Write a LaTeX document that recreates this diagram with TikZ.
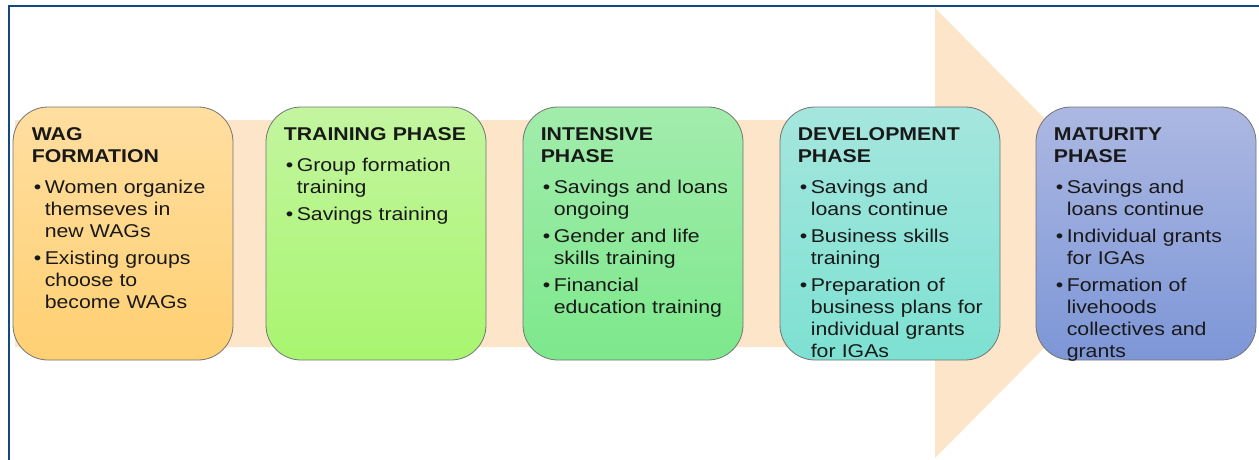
\documentclass[tikz,border=0pt]{standalone}
\usepackage{fontspec}
\setmainfont{Liberation Sans}[FakeStretch=1.15]
\usetikzlibrary{positioning}

\definecolor{framebl}{RGB}{20,72,130}
\definecolor{flowarrow}{RGB}{253,229,202}
\definecolor{wagtop}{RGB}{255,222,160}
\definecolor{wagbot}{RGB}{255,208,115}
\definecolor{traintop}{RGB}{195,245,160}
\definecolor{trainbot}{RGB}{168,245,110}
\definecolor{inttop}{RGB}{162,236,172}
\definecolor{intbot}{RGB}{125,232,140}
\definecolor{devtop}{RGB}{165,230,222}
\definecolor{devbot}{RGB}{125,225,210}
\definecolor{mattop}{RGB}{172,184,226}
\definecolor{matbot}{RGB}{125,150,215}

\newcommand{\phasehead}[1]{\textbf{#1}\par\vspace{9pt}}
\newcommand{\phaseitem}[1]{\hangindent=13pt\hangafter=1\makebox[13pt][l]{\hspace{2pt}\textbullet}#1\par\vspace{5pt}}

\begin{document}
\begin{tikzpicture}[x=1pt,y=1pt]
\tikzstyle{every node}+=[inner sep=0pt]
\tikzstyle{phasebox}=[draw=black!55, line width=0.8pt, rounded corners=35pt, minimum width=220pt, minimum height=253pt]
\tikzstyle{phasetext}=[text width=205pt, align=left, font=\fontsize{18.5}{22}\selectfont, text=black!90]
\useasboundingbox (0,0) rectangle (1259,-460);
\draw [framebl, line width=2pt] (1259,-6) -- (9,-6) -- (9,-460);
\fill [flowarrow] (15,-120) -- (935,-120) -- (935,-8) -- (1158,-233) -- (935,-458) -- (935,-347) -- (15,-347) -- cycle;
\node [phasebox, top color=wagtop, bottom color=wagbot] (wag) at (123,-233.5) {};
\node [phasebox, top color=traintop, bottom color=trainbot] (train) at (376,-233.5) {};
\node [phasebox, top color=inttop, bottom color=intbot] (intens) at (633,-233.5) {};
\node [phasebox, top color=devtop, bottom color=devbot] (devel) at (890,-233.5) {};
\node [phasebox, top color=mattop, bottom color=matbot] (matur) at (1146,-233.5) {};
\node [phasetext, below right=21pt and 19pt of wag.north west] (wagtext) {%
\phasehead{WAG\\FORMATION}
\phaseitem{Women organize\newline themseves in\newline new WAGs}
\phaseitem{Existing groups\newline choose to\newline become WAGs}};
\node [phasetext, below right=21pt and 18pt of train.north west] (traintext) {%
\phasehead{TRAINING PHASE}
\phaseitem{Group formation\newline training}
\phaseitem{Savings training}};
\node [phasetext, below right=21pt and 18pt of intens.north west] (intenstext) {%
\phasehead{INTENSIVE\\PHASE}
\phaseitem{Savings and loans\newline ongoing}
\phaseitem{Gender and life\newline skills training}
\phaseitem{Financial\newline education training}};
\node [phasetext, below right=21pt and 18pt of devel.north west] (develtext) {%
\phasehead{DEVELOPMENT\\PHASE}
\phaseitem{Savings and\newline loans continue}
\phaseitem{Business skills\newline training}
\phaseitem{Preparation of\newline business plans for\newline individual grants\newline for IGAs}};
\node [phasetext, below right=21pt and 18pt of matur.north west] (maturtext) {%
\phasehead{MATURITY\\PHASE}
\phaseitem{Savings and\newline loans continue}
\phaseitem{Individual grants\newline for IGAs}
\phaseitem{Formation of\newline livehoods\newline collectives and\newline grants}};
\end{tikzpicture}
\end{document}
